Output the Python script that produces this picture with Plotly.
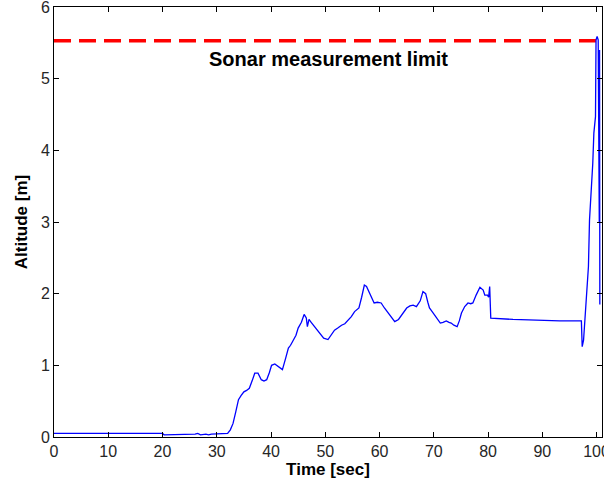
import plotly.graph_objects as go

# Sonar altitude record
time_s = [0, 5, 10, 15, 20, 20.3, 24, 26, 26.5, 27, 28, 28.5, 29, 30, 31, 32,
          32.5, 33, 33.5, 34, 34.5, 35, 35.5, 36, 36.5, 37, 37.6, 38.2, 38.7,
          39.2, 39.7, 40.1, 40.7, 41.3, 42.1, 42.7, 43.2, 43.6, 44.1, 44.6, 45,
          45.6, 46.1, 46.5, 46.7, 47, 47.4, 47.8, 48.4, 49, 49.7, 50.5, 51.1,
          51.7, 52.3, 53, 53.6, 54.2, 54.8, 55.4, 56.2, 56.7, 57.2, 57.6, 57.9,
          58.4, 59, 59.6, 60.3, 60.9, 61.6, 62.2, 62.8, 63.5, 64.3, 65, 65.6,
          66.2, 66.8, 67.5, 68, 68.5, 68.9, 69.2, 69.7, 70.2, 70.7, 71.2, 71.7,
          72.3, 72.8, 73.2, 73.7, 74.3, 74.7, 75.1, 75.7, 76.3, 76.8, 77.2,
          77.8, 78.5, 79.1, 79.4, 79.9, 80.1, 80.3, 80.5, 84.6, 88, 93.2, 97.2,
          97.35, 97.6, 98.0, 98.2, 98.5, 98.7, 99.0, 99.3, 99.5, 99.8, 99.9,
          100.1, 100.3, 100.4, 100.45, 100.5, 100.55, 100.6]
altitude_m = [0.05, 0.05, 0.05, 0.05, 0.05, 0.03, 0.03, 0.04, 0.05, 0.03, 0.04,
              0.03, 0.04, 0.04, 0.04, 0.05,
              0.1, 0.19, 0.35, 0.52, 0.58, 0.63, 0.65, 0.68, 0.78, 0.89, 0.89,
              0.8, 0.78, 0.8, 0.9, 1.0, 1.02, 0.98, 0.94, 1.1, 1.24, 1.28, 1.35,
              1.42, 1.52, 1.6, 1.71, 1.66, 1.54, 1.64, 1.6, 1.56, 1.5, 1.45,
              1.38, 1.36, 1.42, 1.49, 1.52, 1.56, 1.58, 1.63, 1.68, 1.75, 1.8,
              1.95, 2.12, 2.1, 2.05, 1.95, 1.87, 1.88, 1.87, 1.8, 1.73, 1.67,
              1.61, 1.64, 1.73, 1.8, 1.83, 1.84, 1.82, 1.9, 2.03, 2.0, 1.88,
              1.8, 1.75, 1.7, 1.64, 1.59, 1.6, 1.62, 1.6, 1.59, 1.56, 1.54,
              1.62, 1.73, 1.82, 1.87, 1.86, 1.87, 1.98, 2.09, 2.05, 1.98, 1.98,
              1.95, 2.1, 1.66, 1.64, 1.63, 1.62, 1.62,
              1.26, 1.35, 1.77, 2.0, 2.38, 3.03, 3.4, 3.82, 4.24, 4.47, 5.54,
              5.59, 5.54, 4.0, 4.6, 3.0, 5.4, 1.85]

limit_time = [0, 100.6]
limit_alt = [5.53, 5.53]
limit_label = "Sonar measurement limit"

x_ticks = list(range(0, 101, 10))
y_ticks = list(range(0, 7))

tick_font = dict(family="Liberation Sans", size=16, color="#262626")
title_font = dict(family="Liberation Sans", size=17, color="black")

fig = go.Figure()
fig.add_trace(go.Scatter(x=limit_time, y=limit_alt, mode="lines",
                         line=dict(color="#ff0000", width=3.5, dash="17px,8px"),
                         showlegend=False, hoverinfo="skip"))
fig.add_trace(go.Scatter(x=time_s, y=altitude_m, mode="lines",
                         line=dict(color="#0000ff", width=1.3),
                         showlegend=False))

fig.add_annotation(x=50.6, y=5.28, text="<b>" + limit_label + "</b>",
                   showarrow=False,
                   font=dict(family="Liberation Sans", size=20, color="black"))

axis_common = dict(showline=True, linecolor="black", linewidth=1, mirror="ticks",
                   ticks="inside", ticklen=5, tickcolor="black", showgrid=False,
                   zeroline=False, tickfont=tick_font, ticklabeloverflow="allow",
                   automargin=False)

fig.update_xaxes(range=[0, 101], tickvals=x_ticks, ticktext=[str(v) for v in x_ticks],
                 title=dict(text="<b>Time [sec]</b>", font=title_font, standoff=3),
                 **axis_common)
fig.update_yaxes(range=[0, 6], tickvals=y_ticks, ticktext=[str(v) for v in y_ticks],
                 title=dict(text="<b>Altitude [m]</b>", font=title_font, standoff=8),
                 **axis_common)

fig.update_layout(width=604, height=490, margin=dict(l=54, r=2, t=7, b=53),
                  paper_bgcolor="white", plot_bgcolor="white")

fig.write_html("out.html")
